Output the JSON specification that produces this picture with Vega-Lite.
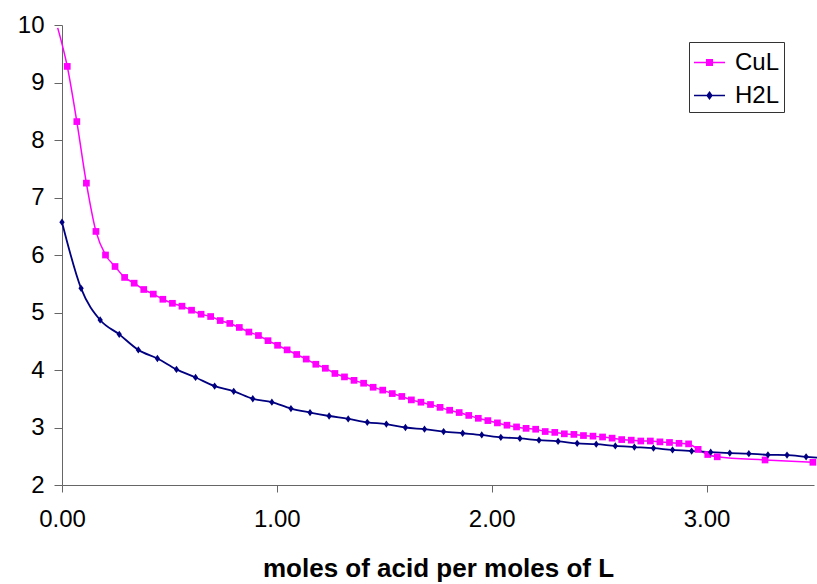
{
  "$schema": "https://vega.github.io/schema/vega-lite/v6.json",
  "width": 752,
  "height": 460,
  "autosize": {"type": "none"},
  "padding": {"left": 62, "top": 25, "right": 3, "bottom": 99},
  "background": "white",
  "config": {"view": {"stroke": null}, "font": "Liberation Sans"},
  "data": {"values": [
    {"series": "CuL", "x": -0.0200, "y": 9.95},
    {"series": "CuL", "x": 0.0245, "y": 9.28},
    {"series": "CuL", "x": 0.0690, "y": 8.32},
    {"series": "CuL", "x": 0.1135, "y": 7.25},
    {"series": "CuL", "x": 0.1580, "y": 6.41},
    {"series": "CuL", "x": 0.2025, "y": 6.00},
    {"series": "CuL", "x": 0.2469, "y": 5.80},
    {"series": "CuL", "x": 0.2914, "y": 5.61},
    {"series": "CuL", "x": 0.3359, "y": 5.51},
    {"series": "CuL", "x": 0.3804, "y": 5.40},
    {"series": "CuL", "x": 0.4249, "y": 5.32},
    {"series": "CuL", "x": 0.4694, "y": 5.23},
    {"series": "CuL", "x": 0.5139, "y": 5.16},
    {"series": "CuL", "x": 0.5584, "y": 5.11},
    {"series": "CuL", "x": 0.6029, "y": 5.04},
    {"series": "CuL", "x": 0.6474, "y": 4.97},
    {"series": "CuL", "x": 0.6918, "y": 4.93},
    {"series": "CuL", "x": 0.7363, "y": 4.86},
    {"series": "CuL", "x": 0.7808, "y": 4.81},
    {"series": "CuL", "x": 0.8253, "y": 4.74},
    {"series": "CuL", "x": 0.8698, "y": 4.66},
    {"series": "CuL", "x": 0.9143, "y": 4.60},
    {"series": "CuL", "x": 0.9588, "y": 4.51},
    {"series": "CuL", "x": 1.0033, "y": 4.43},
    {"series": "CuL", "x": 1.0478, "y": 4.35},
    {"series": "CuL", "x": 1.0923, "y": 4.27},
    {"series": "CuL", "x": 1.1367, "y": 4.19},
    {"series": "CuL", "x": 1.1812, "y": 4.10},
    {"series": "CuL", "x": 1.2257, "y": 4.03},
    {"series": "CuL", "x": 1.2702, "y": 3.94},
    {"series": "CuL", "x": 1.3147, "y": 3.88},
    {"series": "CuL", "x": 1.3592, "y": 3.82},
    {"series": "CuL", "x": 1.4037, "y": 3.77},
    {"series": "CuL", "x": 1.4482, "y": 3.70},
    {"series": "CuL", "x": 1.4927, "y": 3.65},
    {"series": "CuL", "x": 1.5372, "y": 3.59},
    {"series": "CuL", "x": 1.5816, "y": 3.54},
    {"series": "CuL", "x": 1.6261, "y": 3.48},
    {"series": "CuL", "x": 1.6706, "y": 3.44},
    {"series": "CuL", "x": 1.7151, "y": 3.40},
    {"series": "CuL", "x": 1.7596, "y": 3.35},
    {"series": "CuL", "x": 1.8041, "y": 3.30},
    {"series": "CuL", "x": 1.8486, "y": 3.26},
    {"series": "CuL", "x": 1.8931, "y": 3.21},
    {"series": "CuL", "x": 1.9376, "y": 3.16},
    {"series": "CuL", "x": 1.9821, "y": 3.12},
    {"series": "CuL", "x": 2.0265, "y": 3.08},
    {"series": "CuL", "x": 2.0710, "y": 3.04},
    {"series": "CuL", "x": 2.1155, "y": 3.01},
    {"series": "CuL", "x": 2.1600, "y": 2.985},
    {"series": "CuL", "x": 2.2045, "y": 2.97},
    {"series": "CuL", "x": 2.2490, "y": 2.93},
    {"series": "CuL", "x": 2.2935, "y": 2.915},
    {"series": "CuL", "x": 2.3380, "y": 2.89},
    {"series": "CuL", "x": 2.3825, "y": 2.88},
    {"series": "CuL", "x": 2.4270, "y": 2.86},
    {"series": "CuL", "x": 2.4714, "y": 2.85},
    {"series": "CuL", "x": 2.5159, "y": 2.835},
    {"series": "CuL", "x": 2.5604, "y": 2.815},
    {"series": "CuL", "x": 2.6049, "y": 2.79},
    {"series": "CuL", "x": 2.6494, "y": 2.78},
    {"series": "CuL", "x": 2.6939, "y": 2.765},
    {"series": "CuL", "x": 2.7384, "y": 2.765},
    {"series": "CuL", "x": 2.7829, "y": 2.75},
    {"series": "CuL", "x": 2.8274, "y": 2.74},
    {"series": "CuL", "x": 2.8719, "y": 2.725},
    {"series": "CuL", "x": 2.9163, "y": 2.715},
    {"series": "CuL", "x": 2.9608, "y": 2.62},
    {"series": "CuL", "x": 3.0053, "y": 2.53},
    {"series": "CuL", "x": 3.0498, "y": 2.49},
    {"series": "CuL", "x": 3.2723, "y": 2.435},
    {"series": "CuL", "x": 3.4947, "y": 2.395},
    {"series": "H2L", "x": 0.0000, "y": 6.57},
    {"series": "H2L", "x": 0.0888, "y": 5.42},
    {"series": "H2L", "x": 0.1776, "y": 4.87},
    {"series": "H2L", "x": 0.2664, "y": 4.62},
    {"series": "H2L", "x": 0.3552, "y": 4.35},
    {"series": "H2L", "x": 0.4440, "y": 4.20},
    {"series": "H2L", "x": 0.5328, "y": 4.01},
    {"series": "H2L", "x": 0.6216, "y": 3.87},
    {"series": "H2L", "x": 0.7104, "y": 3.72},
    {"series": "H2L", "x": 0.7992, "y": 3.63},
    {"series": "H2L", "x": 0.8880, "y": 3.50},
    {"series": "H2L", "x": 0.9768, "y": 3.44},
    {"series": "H2L", "x": 1.0656, "y": 3.33},
    {"series": "H2L", "x": 1.1544, "y": 3.26},
    {"series": "H2L", "x": 1.2432, "y": 3.20},
    {"series": "H2L", "x": 1.3320, "y": 3.15},
    {"series": "H2L", "x": 1.4208, "y": 3.09},
    {"series": "H2L", "x": 1.5096, "y": 3.06},
    {"series": "H2L", "x": 1.5984, "y": 3.00},
    {"series": "H2L", "x": 1.6872, "y": 2.97},
    {"series": "H2L", "x": 1.7760, "y": 2.93},
    {"series": "H2L", "x": 1.8648, "y": 2.90},
    {"series": "H2L", "x": 1.9536, "y": 2.87},
    {"series": "H2L", "x": 2.0424, "y": 2.83},
    {"series": "H2L", "x": 2.1312, "y": 2.81},
    {"series": "H2L", "x": 2.2200, "y": 2.78},
    {"series": "H2L", "x": 2.3088, "y": 2.76},
    {"series": "H2L", "x": 2.3976, "y": 2.725},
    {"series": "H2L", "x": 2.4864, "y": 2.71},
    {"series": "H2L", "x": 2.5752, "y": 2.68},
    {"series": "H2L", "x": 2.6640, "y": 2.66},
    {"series": "H2L", "x": 2.7528, "y": 2.64},
    {"series": "H2L", "x": 2.8416, "y": 2.61},
    {"series": "H2L", "x": 2.9304, "y": 2.59},
    {"series": "H2L", "x": 3.0192, "y": 2.57},
    {"series": "H2L", "x": 3.1080, "y": 2.555},
    {"series": "H2L", "x": 3.1968, "y": 2.545},
    {"series": "H2L", "x": 3.2856, "y": 2.525},
    {"series": "H2L", "x": 3.3744, "y": 2.52},
    {"series": "H2L", "x": 3.4632, "y": 2.49},
    {"series": "H2L", "x": 3.5520, "y": 2.465}
  ]},
  "encoding": {
    "x": {
      "field": "x", "type": "quantitative",
      "scale": {"domain": [0, 3.5], "nice": false, "zero": false},
      "axis": {
        "values": [0, 1, 2, 3], "format": ".2f", "grid": false,
        "title": "moles of acid per moles of L",
        "domainColor": "#666", "tickColor": "#666", "tickSize": 7,
        "labelFontSize": 24, "labelColor": "#000", "labelPadding": 15, "labelFlush": false,
        "labelFont": "Liberation Sans",
        "titleFont": "Liberation Sans", "titleFontSize": 26, "titleFontWeight": "bold", "titleColor": "#000",
        "titleY": 91, "titleBaseline": "alphabetic"
      }
    },
    "y": {
      "field": "y", "type": "quantitative",
      "scale": {"domain": [2, 10], "nice": false, "zero": false},
      "axis": {
        "values": [2, 3, 4, 5, 6, 7, 8, 9, 10], "format": "d", "grid": false, "title": null,
        "domainColor": "#666", "tickColor": "#666", "tickSize": 8,
        "labelFontSize": 24, "labelColor": "#000", "labelPadding": 10, "labelFont": "Liberation Sans"
      }
    }
  },
  "layer": [
    {
      "transform": [{"filter": "datum.series == 'CuL'"}],
      "mark": {"type": "line", "color": "#FF00FF", "strokeWidth": 1.5, "interpolate": "monotone"}
    },
    {
      "transform": [{"filter": "datum.series == 'H2L'"}],
      "mark": {"type": "line", "color": "#000080", "strokeWidth": 1.8, "interpolate": "monotone"}
    },
    {
      "transform": [{"filter": "datum.series == 'CuL' && datum.x >= 0 && datum.x <= 3.5"}],
      "mark": {"type": "point", "shape": "square", "filled": true, "opacity": 1, "size": 45, "color": "#FF00FF"}
    },
    {
      "transform": [{"filter": "datum.series == 'H2L' && datum.x >= 0 && datum.x <= 3.5"}],
      "mark": {"type": "point", "shape": "M0,-1L0.73,0L0,1L-0.73,0Z", "filled": true, "opacity": 1, "size": 53, "color": "#000080"}
    },
    {
      "transform": [{"filter": "datum.x > 100"}],
      "mark": {"type": "point", "filled": true, "opacity": 1, "strokeWidth": 1.5},
      "encoding": {
        "fill": {
          "field": "series", "type": "nominal",
          "scale": {"domain": ["CuL", "H2L"], "range": ["#FF00FF", "#000080"]},
          "legend": {"orient": "none", "legendX": 627, "legendY": 17, "title": null, "strokeColor": "#333", "fillColor": "white", "padding": 4, "labelFontSize": 24, "labelFont": "Liberation Sans", "labelColor": "#000", "symbolSize": 961, "symbolStrokeWidth": 1.5, "rowPadding": 4, "labelOffset": 9}
        },
        "stroke": {
          "field": "series", "type": "nominal",
          "scale": {"domain": ["CuL", "H2L"], "range": ["#FF00FF", "#000080"]},
          "legend": {"orient": "none", "legendX": 627, "legendY": 17, "title": null, "strokeColor": "#333", "fillColor": "white", "padding": 4, "labelFontSize": 24, "labelFont": "Liberation Sans", "labelColor": "#000", "symbolSize": 961, "symbolStrokeWidth": 1.5, "rowPadding": 4, "labelOffset": 9}
        },
        "shape": {
          "field": "series", "type": "nominal",
          "scale": {"domain": ["CuL", "H2L"], "range": ["M-1,0H1M-0.18,-0.18H0.18V0.18H-0.18Z", "M-1,0H1M0,-0.21L0.15,0L0,0.21L-0.15,0Z"]},
          "legend": {"orient": "none", "legendX": 627, "legendY": 17, "title": null, "strokeColor": "#333", "fillColor": "white", "padding": 4, "labelFontSize": 24, "labelFont": "Liberation Sans", "labelColor": "#000", "symbolSize": 961, "symbolStrokeWidth": 1.5, "rowPadding": 4, "labelOffset": 9}
        }
      }
    }
  ]
}
